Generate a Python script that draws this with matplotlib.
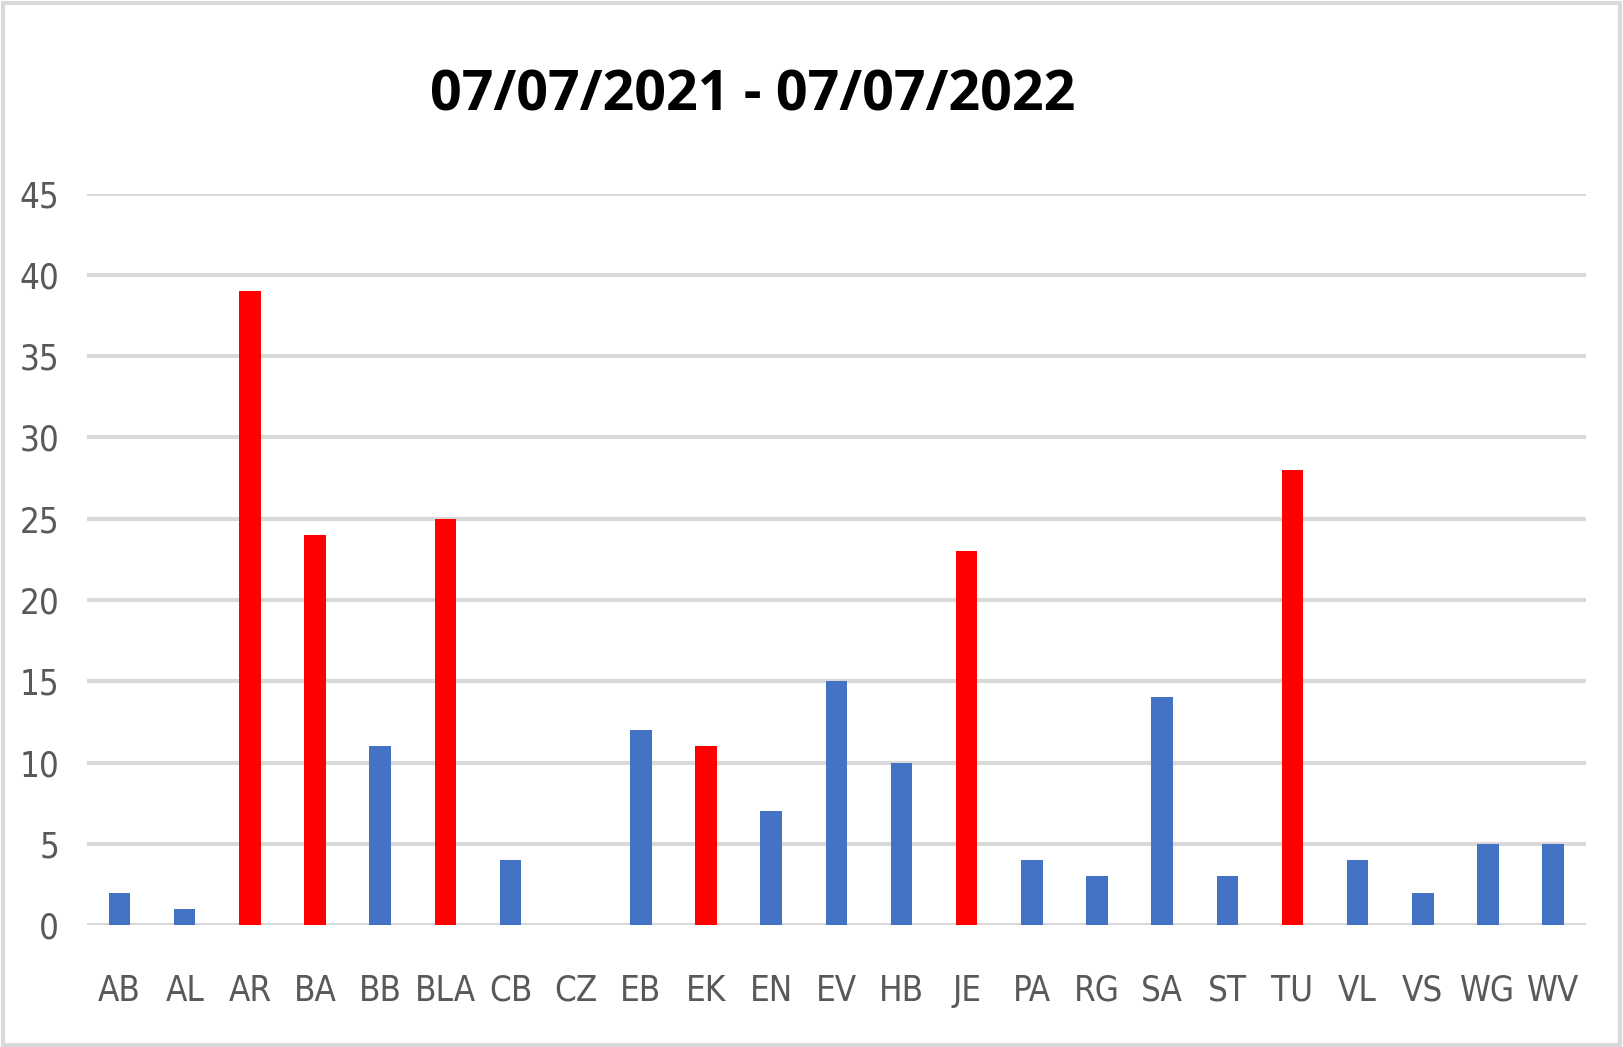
import matplotlib
matplotlib.use("Agg")
import matplotlib.pyplot as plt
from matplotlib.patches import Rectangle

categories = ["AB", "AL", "AR", "BA", "BB", "BLA", "CB", "CZ", "EB", "EK", "EN", "EV",
              "HB", "JE", "PA", "RG", "SA", "ST", "TU", "VL", "VS", "WG", "WV"]
values = [2, 1, 39, 24, 11, 25, 4, 0, 12, 11, 7, 15, 10, 23, 4, 3, 14, 3, 28, 4, 2, 5, 5]
highlight = ["AR", "BA", "BLA", "EK", "JE", "TU"]
yticks = [0, 5, 10, 15, 20, 25, 30, 35, 40, 45]
title = "07/07/2021 - 07/07/2022"

BLUE = "#4472C4"
RED = "#FF0000"
colors = [RED if c in highlight else BLUE for c in categories]

fig = plt.figure(figsize=(16.23, 10.47), dpi=100)
ax = fig.add_axes([0.0536, 0.1165, 0.9234, 0.6985])

x = list(range(len(categories)))
ax.bar(x, values, width=0.33, color=colors, zorder=3)

ax.set_xlim(-0.5, len(categories) - 0.5)
ax.set_ylim(0, 45)
ax.set_yticks(yticks)
ax.set_xticks(x)
ax.set_xticklabels(categories)
ax.yaxis.grid(True, color="#D9D9D9", linewidth=3, zorder=0)
ax.set_axisbelow(True)
for s in ax.spines.values():
    s.set_visible(False)
ax.tick_params(axis="both", length=0, colors="#595959")
for lab in ax.get_yticklabels() + ax.get_xticklabels():
    lab.set_family(["DejaVu Sans"])
    lab.set_fontstretch("condensed")
    lab.set_fontsize(25)
    lab.set_color("#595959")
ax.tick_params(axis="y", pad=20)
ax.tick_params(axis="x", pad=35)

fig.text(0.464, 0.908, title, ha="center", va="center", fontsize=40,
         fontweight="bold", family=["Open Sans", "DejaVu Sans"], color="black")

fig.patches.append(Rectangle((0.002, 0.002), 0.996, 0.995, transform=fig.transFigure,
                             fill=False, edgecolor="#D9D9D9", linewidth=3))

fig.savefig("out.png", dpi=100)
